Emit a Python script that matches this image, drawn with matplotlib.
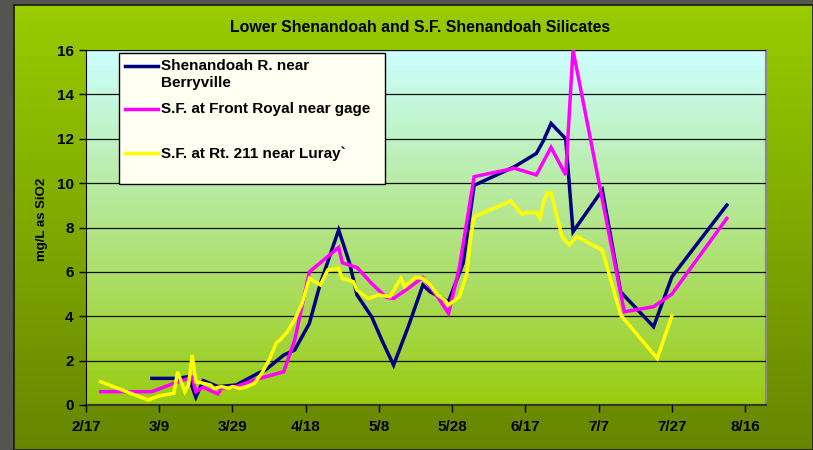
import numpy as np
import pandas as pd
import matplotlib
matplotlib.use('Agg')
from matplotlib import pyplot as plt
from matplotlib.lines import Line2D
from matplotlib.patches import Rectangle

plt.rcParams['font.family'] = ['Liberation Sans', 'DejaVu Sans']
plt.rcParams['font.weight'] = 'bold'

year = 2003

berry_dates = ['3/7', '3/14', '3/17', '3/19', '3/21', '3/25', '3/30', '4/5', '4/7',
               '4/12', '4/15', '4/19', '4/22', '4/27', '4/30', '5/2', '5/6', '5/9',
               '5/12', '5/16', '5/20', '5/22', '5/27', '5/31', '6/3', '6/14', '6/20',
               '6/22', '6/24', '6/28', '6/30', '7/8', '7/13', '7/22', '7/27', '8/11']
berry_vals = [1.2, 1.2, 1.28, 0.35, 1.1, 0.83, 0.9, 1.43, 1.58,
              2.25, 2.48, 3.68, 5.48, 7.89, 6.38, 4.96, 3.98, 2.85,
              1.8, 3.53, 5.41, 5.1, 4.66, 6.4, 9.9, 10.74, 11.34,
              11.94, 12.69, 12.0, 7.81, 9.69, 5.1, 3.53, 5.78, 9.01]

royal_dates = ['2/21', '3/7', '3/13', '3/18', '3/19', '3/21', '3/25', '3/26', '3/30',
               '4/4', '4/12', '4/15', '4/19', '4/27', '4/28', '5/2', '5/6', '5/10',
               '5/12', '5/16', '5/20', '5/24', '5/27', '5/30', '6/3', '6/14', '6/20',
               '6/24', '6/28', '6/30', '7/14', '7/22', '7/27', '8/11']
royal_vals = [0.6, 0.6, 0.98, 1.25, 0.6, 0.8, 0.5, 0.75, 0.83,
              1.13, 1.5, 2.93, 6.0, 7.1, 6.41, 6.2, 5.48, 4.85,
              4.8, 5.26, 5.75, 4.88, 4.13, 6.23, 10.29, 10.67, 10.37,
              11.61, 10.37, 16.0, 4.2, 4.43, 5.0, 8.41]

luray_dates = ['2/21', '3/4', '3/6', '3/9', '3/13', '3/14', '3/16', '3/17', '3/18',
               '3/19', '3/21', '3/23', '3/24', '3/26', '3/28', '3/29', '3/31', '4/2',
               '4/4', '4/6', '4/8', '4/10', '4/11', '4/13', '4/15', '4/17', '4/19',
               '4/22', '4/24', '4/27', '4/28', '5/1', '5/2', '5/5', '5/8', '5/11',
               '5/14', '5/15', '5/18', '5/20', '5/22', '5/24', '5/26', '5/27', '5/30',
               '6/1', '6/2', '6/3', '6/13', '6/16', '6/18', '6/20', '6/21', '6/22',
               '6/23', '6/24', '6/27', '6/29', '7/1', '7/8', '7/13', '7/23', '7/27']
luray_vals = [1.05, 0.35, 0.23, 0.41, 0.53, 1.5, 0.6, 0.9, 2.25,
              1.05, 0.98, 0.9, 0.75, 0.83, 0.75, 0.83, 0.75, 0.83,
              0.98, 1.43, 2.03, 2.81, 2.93, 3.3, 3.85, 4.58, 5.71,
              5.41, 6.08, 6.16, 5.71, 5.56, 5.18, 4.8, 4.96, 4.88,
              5.71, 5.33, 5.75, 5.71, 5.41, 4.96, 4.73, 4.51, 4.88,
              5.93, 7.44, 8.49, 9.19, 8.61, 8.68, 8.67, 8.41, 9.16,
              9.57, 9.57, 7.59, 7.21, 7.59, 6.98, 4.06, 2.1, 4.01]

series_names = ['Shenandoah R. near\nBerryville', 'S.F. at Front Royal near gage',
                'S.F. at Rt. 211 near Luray`']
series_colors = ['#000080', '#ff00ff', '#ffff00']

title = 'Lower Shenandoah and S.F. Shenandoah Silicates'
ylabel = 'mg/L as SiO2'


def to_dates(md):
    return pd.to_datetime([f'{year}/{d}' for d in md], format='%Y/%m/%d')


W, H = 813, 450
fig = plt.figure(figsize=(W / 100, H / 100), dpi=100)
fig.patch.set_facecolor('#55554f')

# chart area with vertical green gradient
bg = fig.add_axes([14 / W, 0, 1 - 14 / W, 1 - 5 / H])
top_c = np.array([153, 204, 0]) / 255
bot_c = np.array([102, 134, 0]) / 255
t = np.linspace(0, 1, 256)[:, None]
grad = top_c * (1 - t) + bot_c * t
bg.imshow(grad[:, None, :].repeat(2, axis=1), aspect='auto', extent=[0, 1, 0, 1])
bg.set_xlim(0, 1)
bg.set_ylim(0, 1)
bg.set_xticks([])
bg.set_yticks([])
for s in bg.spines.values():
    s.set_color('#1a1a10')
    s.set_linewidth(1.2)

# plot area
ax = fig.add_axes([86 / W, 45 / H, 680 / W, 355 / H])
p_top = np.array([204, 255, 255]) / 255
p_bot = np.array([153, 204, 17]) / 255
pgrad = p_top * (1 - t) + p_bot * t
ax.imshow(pgrad[:, None, :].repeat(2, axis=1), aspect='auto', extent=[0, 1, 0, 1],
          transform=ax.transAxes, zorder=0)

all_x = [to_dates(berry_dates), to_dates(royal_dates), to_dates(luray_dates)]
all_y = [berry_vals, royal_vals, luray_vals]
for xs, ys, c in zip(all_x, all_y, series_colors):
    ax.plot(xs, ys, color=c, lw=2.5, zorder=3, solid_joinstyle='miter')

start = pd.Timestamp(f'{year}-02-17')
ax.set_xlim(start, start + pd.Timedelta(days=185.7))
ax.set_ylim(0, 16)
ax.set_yticks(np.arange(0, 17, 2))
xt = [start + pd.Timedelta(days=20 * i) for i in range(10)]
ax.set_xticks(xt)
ax.set_xticklabels([f'{d.month}/{d.day}' for d in xt])
ax.grid(axis='y', color='#111111', lw=0.9, zorder=1)
ax.set_axisbelow(False)
ax.tick_params(axis='both', labelsize=11, width=1, length=5, direction='out', colors='black')
ax.tick_params(axis='x', pad=6)
ax.tick_params(axis='y', pad=4)
ax.spines['left'].set_color('black')
ax.spines['bottom'].set_color('#3c3c28')
ax.spines['bottom'].set_linewidth(1.6)
ax.spines['top'].set_color('#8a8a8a')
ax.spines['right'].set_color('#8a8a8a')
ax.spines['right'].set_linewidth(1.6)
for lab in ax.get_xticklabels() + ax.get_yticklabels():
    lab.set_fontweight('bold')

fig.text(420 / W, 1 - 27 / H, title, ha='center', va='center', fontsize=11.4, fontweight='bold')
fig.text(42 / W, 1 - 219 / H, ylabel, rotation=90, ha='center', va='center',
         fontsize=9.5, fontweight='bold')


# legend box drawn in figure pixels
def fx(x):
    return x / W


def fy(y):
    return 1 - y / H


fig.add_artist(Rectangle((fx(119), fy(184)), (385 - 119) / W, (184 - 53) / H,
                         transform=fig.transFigure, facecolor='#fffff2',
                         edgecolor='black', lw=1, zorder=10))
entry_y = [66, 109.3, 153.3]
for name, c, yy in zip(series_names, series_colors, entry_y):
    fig.add_artist(Line2D([fx(125), fx(158)], [fy(yy), fy(yy)], color=c, lw=2.5,
                          transform=fig.transFigure, zorder=11))
    for i, line in enumerate(name.split('\n')):
        fig.text(fx(160.5), fy(yy + 17.3 * i), line, ha='left', va='center',
                 fontsize=11, fontweight='bold', zorder=12)

fig.savefig('out.png', dpi=100, facecolor=fig.get_facecolor())
